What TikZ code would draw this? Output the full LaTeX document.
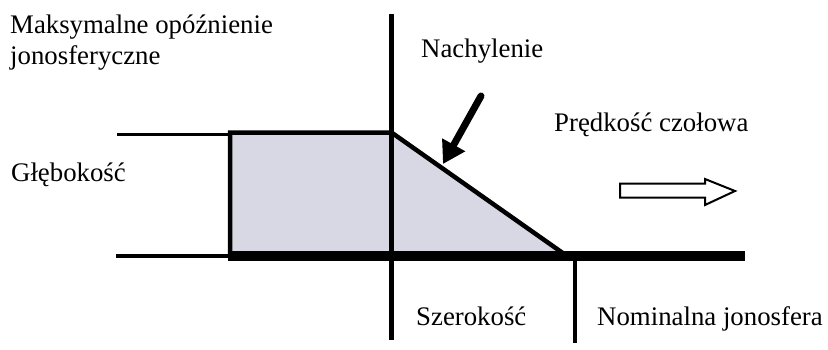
\documentclass[tikz,border=0pt]{standalone}
\usepackage{fontspec}
\setmainfont{Liberation Serif}
\usetikzlibrary{arrows.meta}
\definecolor{fillc}{RGB}{216,216,228}
\begin{document}
\begin{tikzpicture}[x=1pt,y=-1pt,
  lbl/.style={anchor=base west, inner sep=0pt, font=\fontsize{26.8}{31}\selectfont, align=left},
  thinline/.style={line width=3.5pt},
  edge/.style={line width=4.5pt, line join=miter},
  baseline/.style={line width=10pt},
  axis/.style={line width=4.5pt},
  bigarrow/.style={line width=7pt, line cap=round, -{Triangle[length=22pt,width=25pt]}},
  hollow/.style={line width=2pt, fill=white, line join=miter}
]
\useasboundingbox (0,0) rectangle (828,349);
% coordinates
\coordinate (tl) at (230,132.5);
\coordinate (tr) at (391.5,132.5);
\coordinate (br) at (567,256);
\coordinate (bl) at (230,256);
\coordinate (bstart) at (227.5,256);
\coordinate (bend) at (745,256);
\coordinate (l1a) at (117,134.5);
\coordinate (l1b) at (230,134.5);
\coordinate (l2a) at (116,256);
\coordinate (l2b) at (230,256);
\coordinate (v1a) at (391.5,14);
\coordinate (v1b) at (391.5,340);
\coordinate (v2a) at (575,256);
\coordinate (v2b) at (575,343);
\coordinate (atail) at (481,96);
\coordinate (ahead) at (443,164);
% shape
\fill[fillc] (tl) -- (tr) -- (br) -- (bl) -- cycle;
\draw[thinline] (l1a) -- (l1b);
\draw[thinline] (l2a) -- (l2b);
\draw[edge] (bl) -- (tl) -- (tr) -- (br);
\draw[baseline] (bstart) -- (bend);
\draw[axis] (v1a) -- (v1b);
\draw[line width=4pt] (v2a) -- (v2b);
\draw[bigarrow] (atail) -- (ahead);
% hollow arrow
\draw[hollow] (620,183.5) -- (705,183.5) -- (705,179) -- (735,191) -- (705,205) -- (705,197.5) -- (620,197.5) -- cycle;
% labels
\node[lbl] (maks) at (10,64) {Maksymalne opóźnienie\\jonosferyczne};
\node[lbl] (nach) at (421,57) {Nachylenie};
\node[lbl] (pred) at (554,131) {Prędkość czołowa};
\node[lbl] (gleb) at (11,181.5) {Głębokość};
\node[lbl] (szer) at (416,325) {Szerokość};
\node[lbl] (nom) at (597,325) {Nominalna jonosfera};
\end{tikzpicture}
\end{document}
